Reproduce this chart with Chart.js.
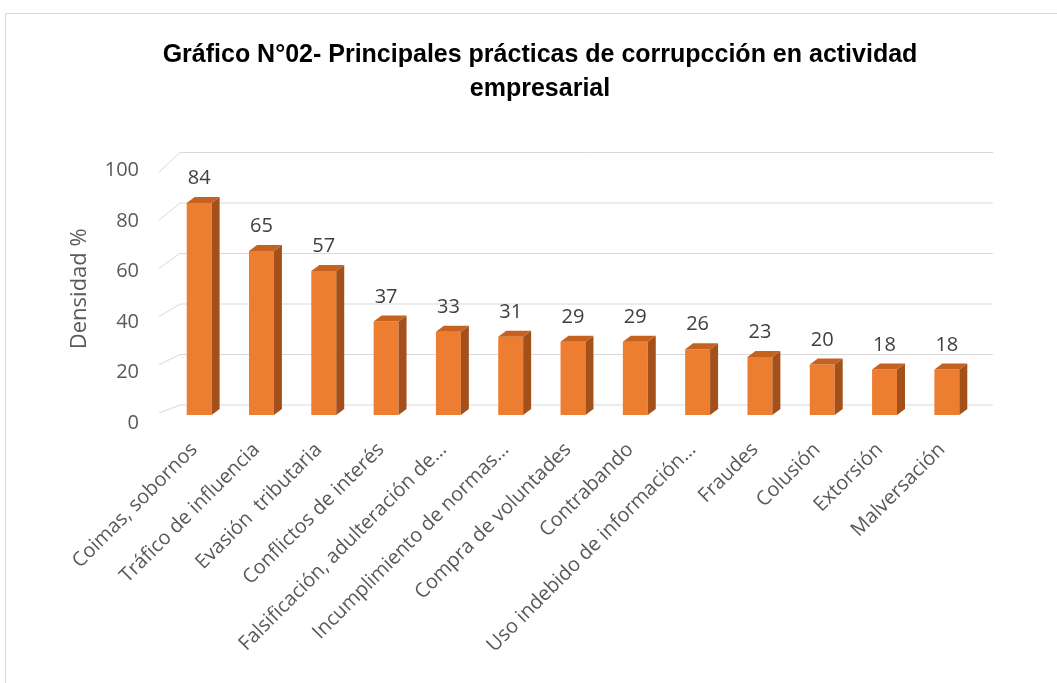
<!DOCTYPE html>
<html>
<head>
<meta charset="utf-8">
<script src="https://cdn.jsdelivr.net/npm/chart.js@4.4.0/dist/chart.umd.min.js"></script>
<style>
    html, body { margin: 0; padding: 0; overflow: hidden; background: #fff; }
</style>
</head>
<body>
<canvas id="grafico" width="1080" height="683"></canvas>
<script>
// Datos del gráfico
const categorias = [
    'Coimas, sobornos',
    'Tráfico de influencia',
    'Evasión  tributaria',
    'Conflictos de interés',
    'Falsificación, adulteración de…',
    'Incumplimiento de normas…',
    'Compra de voluntades',
    'Contrabando',
    'Uso indebido de información…',
    'Fraudes',
    'Colusión',
    'Extorsión',
    'Malversación'
];
const densidad = [84, 65, 57, 37, 33, 31, 29, 29, 26, 23, 20, 18, 18];
const ticksY = [0, 20, 40, 60, 80, 100];
const titulo = ['Gráfico N°02- Principales prácticas de corrupcción en actividad', 'empresarial'];
const tituloEjeY = 'Densidad %';

// Colores de las caras de la barra
const colorFrente = '#ED7D31';
const colorLado = '#A3501A';
const colorTapa = '#C5621F';
const colorGrilla = '#D9D9D9';

// Profundidad del efecto 3D
const profX = 8;
const profY = 6;

const fuenteEjes = '"Open Sans", "DejaVu Sans", sans-serif';

const barras3d = {
    id: 'barras3d',
    beforeDraw(chart) {
        const ctx = chart.ctx;
        ctx.save();
        ctx.fillStyle = '#fff';
        ctx.fillRect(0, 0, chart.width, chart.height);
        // marco del gráfico
        ctx.strokeStyle = '#D9D9D9';
        ctx.lineWidth = 1;
        ctx.strokeRect(5.5, 13.5, chart.width + 20, chart.height + 20);
        ctx.restore();
    },
    beforeDatasetsDraw(chart) {
        // grilla en perspectiva: diagonal en la pared izquierda + línea en el fondo
        const ctx = chart.ctx;
        const y = chart.scales.y;
        const p0 = y.getPixelForValue(0);
        const derecha = chart.chartArea.right + 15;
        ctx.save();
        ctx.strokeStyle = colorGrilla;
        ctx.lineWidth = 1;
        ticksY.forEach(v => {
            const yv = y.getPixelForValue(v);
            const frente = p0 - 2 - 0.9545 * (p0 - yv);
            const fondo = yv - 10;
            ctx.beginPath();
            ctx.moveTo(159, frente);
            ctx.lineTo(180, fondo);
            ctx.lineTo(derecha, fondo);
            ctx.stroke();
        });
        ctx.restore();
    },
    afterDatasetsDraw(chart) {
        const ctx = chart.ctx;
        const meta = chart.getDatasetMeta(0);
        ctx.save();
        meta.data.forEach((bar, i) => {
            const { x, y, base, width } = bar.getProps(['x', 'y', 'base', 'width'], true);
            const izq = x - width / 2;
            const der = x + width / 2;

            // cara lateral
            ctx.fillStyle = colorLado;
            ctx.beginPath();
            ctx.moveTo(der, y);
            ctx.lineTo(der + profX, y - profY);
            ctx.lineTo(der + profX, base - profY);
            ctx.lineTo(der, base);
            ctx.closePath();
            ctx.fill();

            // cara superior
            ctx.fillStyle = colorTapa;
            ctx.beginPath();
            ctx.moveTo(izq, y);
            ctx.lineTo(izq + profX, y - profY);
            ctx.lineTo(der + profX, y - profY);
            ctx.lineTo(der, y);
            ctx.closePath();
            ctx.fill();

            // etiqueta de datos
            ctx.fillStyle = '#404040';
            ctx.font = '20px ' + fuenteEjes;
            ctx.textAlign = 'center';
            ctx.textBaseline = 'alphabetic';
            ctx.fillText(String(densidad[i]), x, y - 19);
        });
        ctx.restore();
    }
};

new Chart(document.getElementById('grafico'), {
    type: 'bar',
    data: {
        labels: categorias,
        datasets: [{
            data: densidad,
            backgroundColor: colorFrente,
            borderWidth: 0,
            barPercentage: 0.4,
            categoryPercentage: 1
        }]
    },
    options: {
        responsive: false,
        animation: false,
        devicePixelRatio: 1,
        layout: {
            padding: { top: 13, left: 102, right: 102, bottom: 0 }
        },
        plugins: {
            legend: { display: false },
            tooltip: { enabled: false },
            title: {
                display: true,
                text: titulo,
                color: '#000',
                font: { family: '"Liberation Sans", Arial, sans-serif', weight: 'bold', size: 25, lineHeight: 34 / 25 },
                padding: { top: 25, bottom: 56.5 }
            }
        },
        scales: {
            x: {
                grid: { display: false, drawTicks: false },
                border: { display: false },
                ticks: {
                    autoSkip: false,
                    maxRotation: 45,
                    minRotation: 45,
                    padding: 23,
                    labelOffset: -5,
                    color: '#595959',
                    font: { family: fuenteEjes, size: 20 }
                },
                afterFit(scale) {
                    scale.height = 268;
                }
            },
            y: {
                min: 0,
                max: 100,
                grid: { display: false, drawTicks: false },
                border: { display: false },
                afterBuildTicks(scale) {
                    scale.ticks = ticksY.map(v => ({ value: v }));
                },
                ticks: {
                    padding: 29,
                    labelOffset: 8,
                    color: '#595959',
                    font: { family: fuenteEjes, size: 20 }
                },
                title: {
                    display: true,
                    text: tituloEjeY,
                    color: '#595959',
                    padding: { top: -35, bottom: 0 },
                    font: { family: fuenteEjes, size: 22 }
                },
                afterFit(scale) {
                    scale.width = 66;
                }
            }
        }
    },
    plugins: [barras3d]
});
</script>
</body>
</html>
